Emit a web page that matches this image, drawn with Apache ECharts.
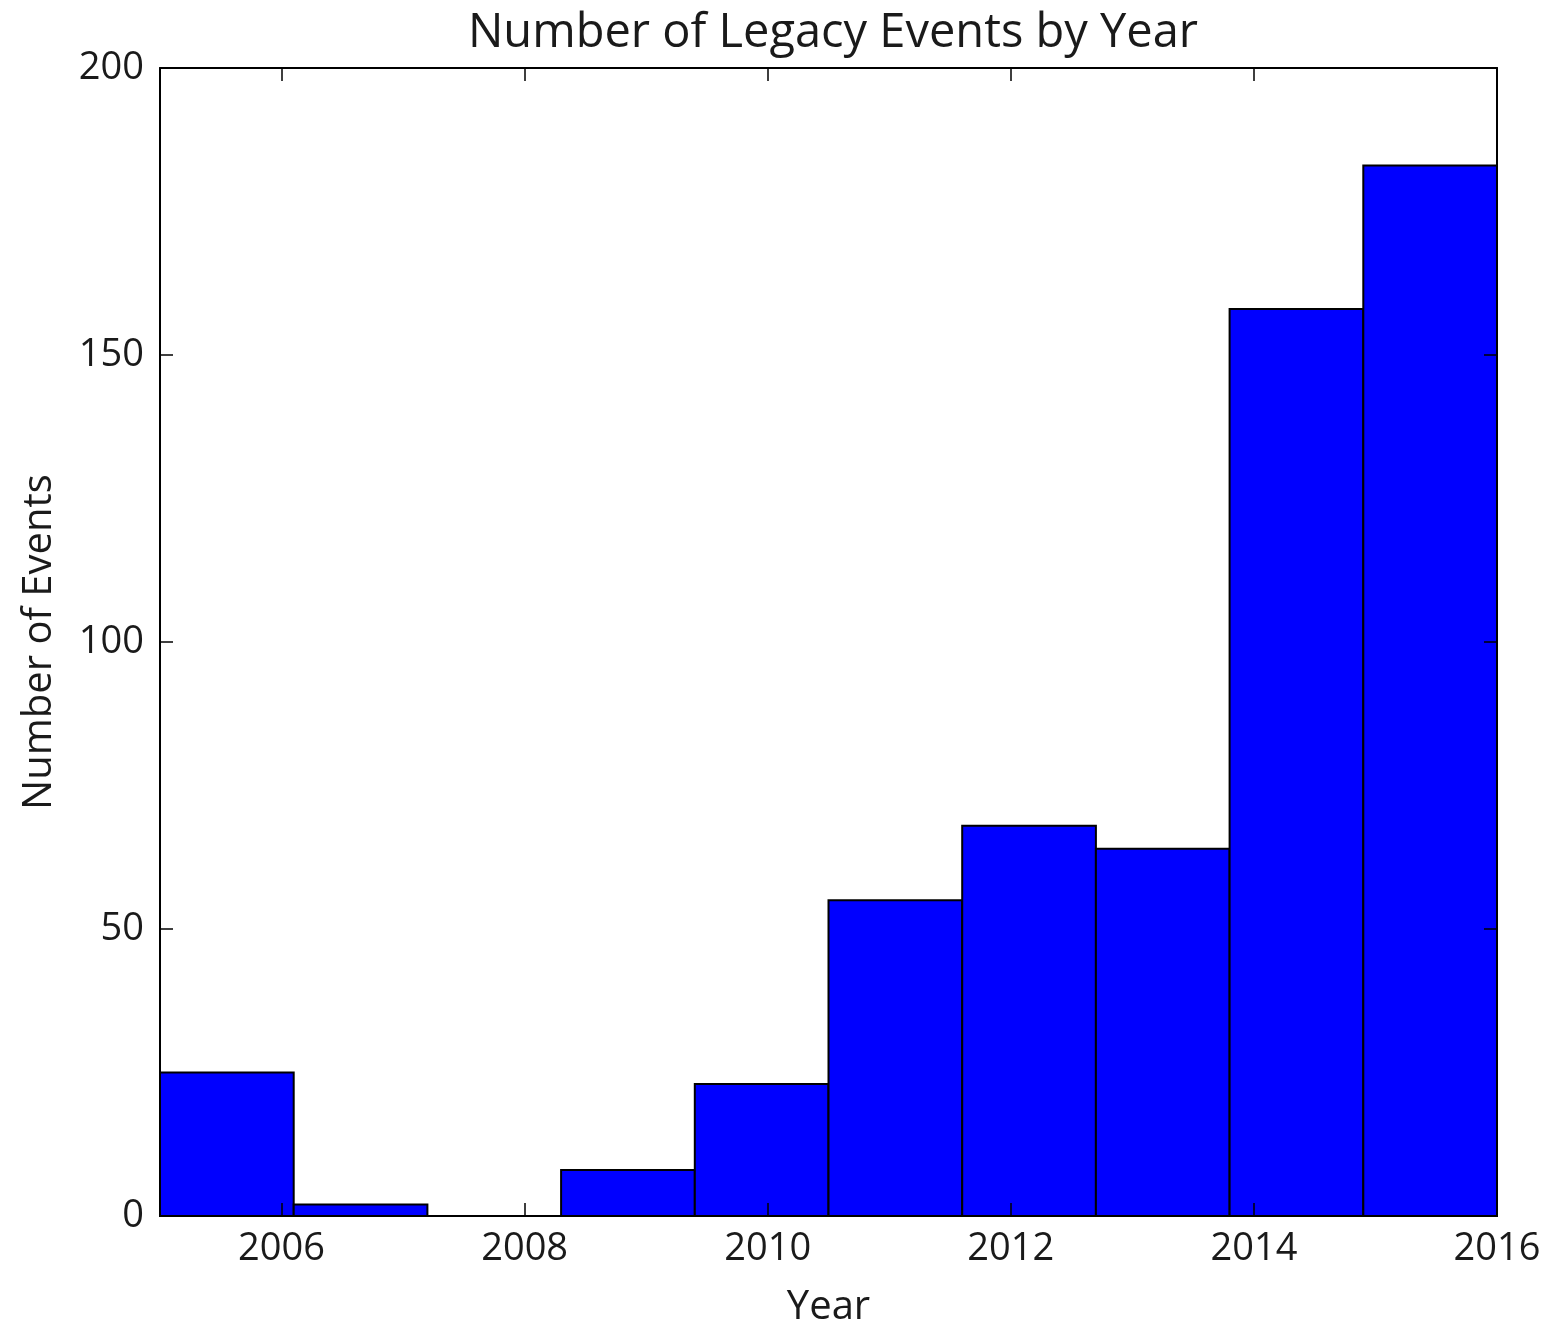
<!DOCTYPE html>
<html>
<head>
<meta charset="utf-8">
<script src="https://cdn.jsdelivr.net/npm/echarts@6/dist/echarts.min.js"></script>
<style>
html,body{margin:0;padding:0;background:#fff;}
#chart{width:1566px;height:1327px;}
</style>
</head>
<body>
<div id="chart"></div>
<script>
// Histogram bin edges (years) and counts per bin
const binEdges = [2005, 2006.1, 2007.2, 2008.3, 2009.4, 2010.5, 2011.6, 2012.7, 2013.8, 2014.9, 2016];
const counts = [25, 2, 0, 8, 23, 55, 68, 64, 158, 183];
const xTicks = [2006, 2008, 2010, 2012, 2014, 2016];
const yTicks = [0, 50, 100, 150, 200];
const titleText = 'Number of Legacy Events by Year';
const xLabel = 'Year';
const yLabel = 'Number of Events';

const FONT = 'Open Sans';
const FS = 38;
const TXT = '#1a1a1a';

const data = counts.map((c, i) => [binEdges[i], binEdges[i + 1], c]);

const chart = echarts.init(document.getElementById('chart'), null, {renderer: 'canvas'});

function line() { return {show: true, onZero: false, lineStyle: {color: '#000', width: 2}}; }
function ticks(vals) { return {show: true, inside: true, length: 13, customValues: vals, lineStyle: {color: '#000', width: 1.5}}; }

chart.setOption({
  animation: false,
  backgroundColor: '#fff',
  title: {
    text: titleText,
    left: 828, top: 5, textAlign: 'center',
    textStyle: {fontFamily: FONT, fontSize: 47, fontWeight: 'normal', color: TXT}
  },
  grid: {left: 160, right: 69, top: 68, bottom: 111, containLabel: false, outerBoundsMode: 'none'},
  xAxis: [
    {
      type: 'value', min: 2005, max: 2016, position: 'bottom', z: 5,
      name: xLabel, nameLocation: 'middle', nameGap: 72,
      nameTextStyle: {fontFamily: FONT, fontSize: 40, color: TXT},
      axisLine: line(),
      axisTick: ticks(xTicks),
      axisLabel: {customValues: xTicks, formatter: v => String(v), fontFamily: FONT, fontSize: FS, color: TXT, margin: 14, showMinLabel: true, showMaxLabel: true},
      splitLine: {show: false}
    },
    {
      type: 'value', min: 2005, max: 2016, position: 'top', z: 5,
      axisLine: line(),
      axisTick: ticks(xTicks),
      axisLabel: {show: false},
      splitLine: {show: false}
    }
  ],
  yAxis: [
    {
      type: 'value', min: 0, max: 200, position: 'left', z: 5,
      name: yLabel, nameLocation: 'middle', nameGap: 100, nameRotate: 90,
      nameTextStyle: {fontFamily: FONT, fontSize: 40, color: TXT},
      axisLine: line(),
      axisTick: ticks(yTicks),
      axisLabel: {customValues: yTicks, formatter: v => String(v), fontFamily: FONT, fontSize: FS, color: TXT, margin: 16},
      splitLine: {show: false}
    },
    {
      type: 'value', min: 0, max: 200, position: 'right', z: 5,
      axisLine: line(),
      axisTick: ticks(yTicks),
      axisLabel: {show: false},
      splitLine: {show: false}
    }
  ],
  series: [{
    type: 'custom',
    xAxisIndex: 0, yAxisIndex: 0,
    data: data,
    encode: {x: [0, 1], y: 2},
    renderItem: function (params, api) {
      const p0 = api.coord([api.value(0), api.value(2)]);
      const p1 = api.coord([api.value(1), 0]);
      return {
        type: 'rect',
        shape: {x: p0[0], y: p0[1], width: p1[0] - p0[0], height: p1[1] - p0[1]},
        style: {fill: '#0000ff', stroke: '#000', lineWidth: 2}
      };
    },
    z: 1
  }]
});
</script>
</body>
</html>
